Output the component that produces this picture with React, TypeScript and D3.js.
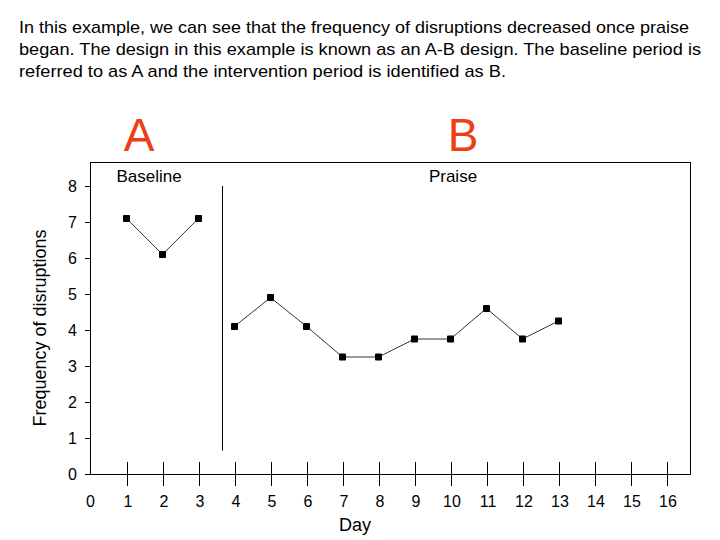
import * as d3 from "d3";
import { useEffect, useRef } from "react";

const introLines = [
  "In this example, we can see that the frequency of disruptions decreased once praise",
  "began. The design in this example is known as an A-B design. The baseline period is",
  "referred to as A and the intervention period is identified as B.",
];
const introWidths = [670, 682, 487];

const baselineDays = [1, 2, 3];
const baselineValues = [7.1, 6.1, 7.1];
const praiseDays = [4, 5, 6, 7, 8, 9, 10, 11, 12, 13];
const praiseValues = [4.1, 4.9, 4.1, 3.25, 3.25, 3.75, 3.75, 4.6, 3.75, 4.25];

const yTicks = [0, 1, 2, 3, 4, 5, 6, 7, 8];
const xTicks = [1, 2, 3, 4, 5, 6, 7, 8, 9, 10, 11, 12, 13, 14, 15, 16];
const xLabels = [0, ...xTicks];
const phaseChange = 3.65;
const phaseLineBottom = 0.65;

export default function App() {
  const ref = useRef<SVGSVGElement>(null);

  useEffect(() => {
    if (!ref.current) return;
    document.body.style.margin = "0";
    const svg = d3.select(ref.current);
    svg.selectAll("*").remove();

    const width = 720,
      height = 540;
    const font = "Arial, 'Liberation Sans', sans-serif";
    svg.attr("width", width).attr("height", height);

    svg.append("rect").attr("width", width).attr("height", height).attr("fill", "#fff");

    // intro text
    svg
      .append("g")
      .selectAll("text")
      .data(introLines)
      .enter()
      .append("text")
      .attr("x", 19)
      .attr("y", (d, i) => 33 + i * 22)
      .attr("font-family", font)
      .attr("font-size", "17px")
      .attr("textLength", (d, i) => introWidths[i])
      .attr("lengthAdjust", "spacingAndGlyphs")
      .attr("fill", "#000")
      .text((d) => d);

    const box = { left: 90, top: 162, right: 690, bottom: 474 };

    const x = d3.scaleLinear().domain([0, 16]).range([90.5, 666.5]);
    const y = d3.scaleLinear().domain([0, 8]).range([474, 186]);

    // frame
    svg
      .append("rect")
      .attr("x", box.left + 0.5)
      .attr("y", box.top + 0.5)
      .attr("width", box.right - box.left)
      .attr("height", box.bottom - box.top)
      .attr("fill", "none")
      .attr("stroke", "#000")
      .attr("stroke-width", 1);

    // y ticks
    const yg = svg.append("g");
    yg.selectAll("line")
      .data(yTicks)
      .enter()
      .append("line")
      .attr("x1", 85)
      .attr("x2", 90)
      .attr("y1", (d) => Math.round(y(d)) + 0.5)
      .attr("y2", (d) => Math.round(y(d)) + 0.5)
      .attr("stroke", "#000");
    yg.selectAll("text")
      .data(yTicks)
      .enter()
      .append("text")
      .attr("x", 77)
      .attr("y", (d) => y(d) + 6)
      .attr("text-anchor", "end")
      .attr("font-family", font)
      .attr("font-size", "16px")
      .text((d) => d);

    // x ticks
    const xg = svg.append("g");
    xg.selectAll("line")
      .data(xTicks)
      .enter()
      .append("line")
      .attr("x1", (d) => Math.round(x(d)) + 0.5)
      .attr("x2", (d) => Math.round(x(d)) + 0.5)
      .attr("y1", 462)
      .attr("y2", 486)
      .attr("stroke", "#000");
    xg.selectAll("text")
      .data(xLabels)
      .enter()
      .append("text")
      .attr("x", (d) => x(d) + (d > 0 ? 1.5 : 0))
      .attr("y", 507)
      .attr("text-anchor", "middle")
      .attr("font-family", font)
      .attr("font-size", "16px")
      .text((d) => d);

    // axis titles
    svg
      .append("text")
      .attr("x", 355)
      .attr("y", 531)
      .attr("text-anchor", "middle")
      .attr("font-family", font)
      .attr("font-size", "18px")
      .text("Day");
    svg
      .append("text")
      .attr("transform", "translate(46,328) rotate(-90)")
      .attr("text-anchor", "middle")
      .attr("font-family", font)
      .attr("font-size", "18px")
      .text("Frequency of disruptions");

    // phase labels
    svg
      .append("text")
      .attr("x", 139)
      .attr("y", 151)
      .attr("text-anchor", "middle")
      .attr("font-family", font)
      .attr("font-size", "46px")
      .attr("fill", "#ef3e16")
      .text("A");
    svg
      .append("text")
      .attr("x", 463)
      .attr("y", 151)
      .attr("text-anchor", "middle")
      .attr("font-family", font)
      .attr("font-size", "46px")
      .attr("fill", "#ef3e16")
      .text("B");
    svg
      .append("text")
      .attr("x", 149)
      .attr("y", 182)
      .attr("text-anchor", "middle")
      .attr("font-family", font)
      .attr("font-size", "17px")
      .text("Baseline");
    svg
      .append("text")
      .attr("x", 453)
      .attr("y", 182)
      .attr("text-anchor", "middle")
      .attr("font-family", font)
      .attr("font-size", "17px")
      .text("Praise");

    // phase change line
    svg
      .append("line")
      .attr("x1", Math.round(x(phaseChange)) + 0.5)
      .attr("x2", Math.round(x(phaseChange)) + 0.5)
      .attr("y1", y(8))
      .attr("y2", y(phaseLineBottom))
      .attr("stroke", "#000");

    // data series
    const line = d3
      .line<[number, number]>()
      .x((d) => x(d[0]))
      .y((d) => y(d[1]));

    const phases: [number, number][][] = [
      baselineDays.map((d, i) => [d, baselineValues[i]]),
      praiseDays.map((d, i) => [d, praiseValues[i]]),
    ];

    phases.forEach((pts) => {
      svg
        .append("path")
        .datum(pts)
        .attr("d", line)
        .attr("fill", "none")
        .attr("stroke", "#000")
        .attr("stroke-width", 0.8);
      svg
        .append("g")
        .selectAll("rect")
        .data(pts)
        .enter()
        .append("rect")
        .attr("x", (d) => x(d[0]) - 3.5)
        .attr("y", (d) => y(d[1]) - 3.5)
        .attr("width", 7)
        .attr("height", 7)
        .attr("rx", 1)
        .attr("fill", "#000");
    });
  }, []);

  return <svg ref={ref} style={{ display: "block" }} />;
}
